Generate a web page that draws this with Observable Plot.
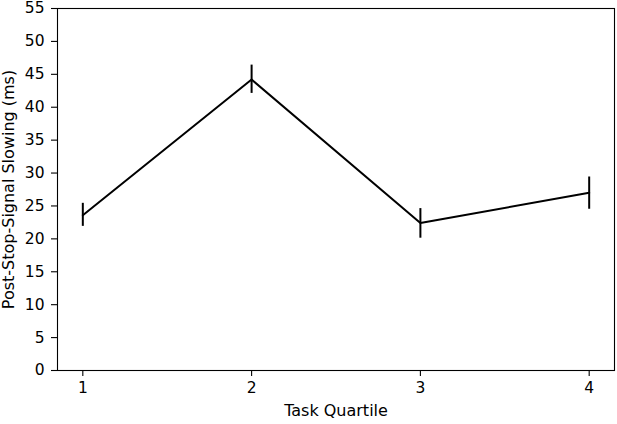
<!DOCTYPE html>
<html>
<head>
<meta charset="utf-8">
<script src="https://cdn.jsdelivr.net/npm/d3@7"></script>
<script src="https://cdn.jsdelivr.net/npm/@observablehq/plot@0.6"></script>
<style>
  html, body { margin: 0; padding: 0; background: #fff; }
  #chart svg text { font-family: "DejaVu Sans" !important; fill: #000; }
  #chart svg g[aria-label$="tick label"] text { font-size: 15.5px !important; }
  #chart svg g[aria-label$="axis label"] text { font-size: 16px !important; }
</style>
</head>
<body>
<div id="chart"></div>
<script>
const quartiles = [1, 2, 3, 4];
const means = [23.6, 44.2, 22.4, 27.0];
const errLow = [21.9, 42.1, 20.1, 24.5];
const errHigh = [25.4, 46.4, 24.6, 29.4];
const xTicks = [1, 2, 3, 4];
const yTicks = [0, 5, 10, 15, 20, 25, 30, 35, 40, 45, 50, 55];

const data = quartiles.map((q, i) => ({q, mean: means[i], lo: errLow[i], hi: errHigh[i]}));

const chart = Plot.plot({
  width: 617,
  height: 424,
  marginLeft: 57,
  marginRight: 3,
  marginTop: 8,
  marginBottom: 54,
  style: {fontFamily: "DejaVu Sans", fontSize: "15px", color: "black", background: "white"},
  x: {domain: [0.85, 4.15]},
  y: {domain: [0, 55]},
  marks: [
    Plot.frame({stroke: "black", strokeWidth: 1.1}),
    Plot.axisX({ticks: xTicks, tickFormat: d => String(d), tickSize: 6, tickPadding: 5, fontSize: 15,
      strokeWidth: 1.1, label: null}),
    Plot.axisX({ticks: [], label: "Task Quartile", labelAnchor: "center", labelArrow: "none",
      labelOffset: 45, fontSize: 16}),
    Plot.axisY({ticks: yTicks, tickFormat: d => String(d), tickSize: 6, tickPadding: 7, fontSize: 15,
      strokeWidth: 1.1, label: null}),
    Plot.axisY({ticks: [], label: "Post-Stop-Signal Slowing (ms)", labelAnchor: "center", labelArrow: "none",
      labelOffset: 55, fontSize: 16}),
    Plot.line(data, {x: "q", y: "mean", stroke: "black", strokeWidth: 2}),
    Plot.ruleX(data, {x: "q", y1: "lo", y2: "hi", stroke: "black", strokeWidth: 2})
  ]
});
document.getElementById("chart").appendChild(chart);
</script>
</body>
</html>
